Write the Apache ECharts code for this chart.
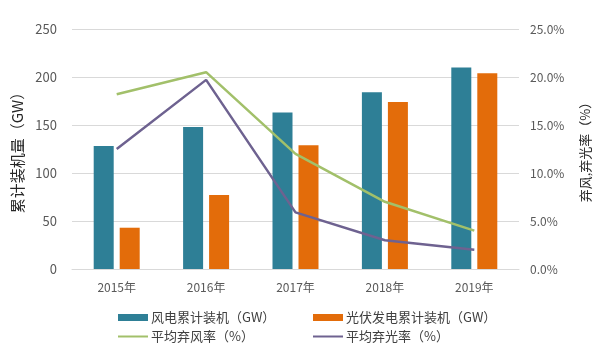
<!DOCTYPE html>
<html><head><meta charset="utf-8">
<script src="https://cdn.jsdelivr.net/npm/echarts@6/dist/echarts.min.js"></script>
<style>html,body{margin:0;padding:0;background:#fff}#c{width:600px;height:354px}</style>
</head><body><div id="c"></div>
<script>
const categories = ['2015年','2016年','2017年','2018年','2019年'];
const windCapacity = [128, 148, 163, 184, 210];
const solarCapacity = [43, 77, 129, 174, 204];
const windCurtail = [18.2, 20.5, 12.0, 7.0, 4.0];
const solarCurtail = [12.5, 19.7, 5.9, 3.0, 2.0];
const leftTicks = [0, 50, 100, 150, 200, 250];
const rightTicks = [0, 5, 10, 15, 20, 25];

const names = ['风电累计装机（GW）','光伏发电累计装机（GW）','平均弃风率（%）','平均弃光率（%）'];
const colors = ['#2e7f96','#e36c0a','#a2c06a','#6e6290'];
const font = '"Noto Sans CJK SC", "Open Sans", sans-serif';
const chart = echarts.init(document.getElementById('c'));
function lg(i, left, top, icon, h){
  return {data:[{name:names[i], icon:icon}], left:left, top:top, itemWidth:30, itemHeight:h,
    itemGap:4, textStyle:{fontSize:13, color:'#404040', fontFamily:font, padding:[0,0,0,-2]}, selectedMode:false};
}
chart.setOption({
  animation:false,
  textStyle:{fontFamily:font},
  grid:{left:72, right:75, top:29, bottom:85},
  legend:[lg(0,113,306,'rect',7), lg(1,308,306,'rect',7), lg(2,113,325,'rect',2), lg(3,308,325,'rect',2)],
  xAxis:{type:'category', data:categories, axisTick:{show:false},
    axisLine:{show:true, lineStyle:{color:'#d9d9d9'}},
    axisLabel:{color:'#595959', fontSize:12, margin:12}},
  yAxis:[
    {type:'value', min:0, max:250, interval:50, name:'累计装机量（GW）', nameLocation:'middle', nameGap:44, nameRotate:90,
     nameTextStyle:{fontSize:15, color:'#262626'},
     axisLabel:{color:'#595959', fontSize:13, margin:15, formatter:v=>leftTicks.includes(v)?String(v):''},
     splitLine:{lineStyle:{color:'#d9d9d9'}}, axisLine:{show:false}, axisTick:{show:false}},
    {type:'value', min:0, max:25, interval:5, name:'弃风,弃光率（%）', nameLocation:'middle', nameGap:60, nameRotate:90,
     nameTextStyle:{fontSize:13, color:'#262626'},
     axisLabel:{color:'#595959', fontSize:12, margin:11, formatter:v=>rightTicks.includes(v)?v.toFixed(1)+'%':''},
     splitLine:{show:false}, axisLine:{show:false}, axisTick:{show:false}}
  ],
  series:[
    {name:names[0], type:'bar', data:windCapacity, barWidth:20, barGap:'30%', itemStyle:{color:colors[0]}},
    {name:names[1], type:'bar', data:solarCapacity, barWidth:20, barGap:'30%', itemStyle:{color:colors[1]}},
    {name:names[2], type:'line', yAxisIndex:1, data:windCurtail, symbol:'none', lineStyle:{width:2.5, color:colors[2]}, itemStyle:{color:colors[2]}},
    {name:names[3], type:'line', yAxisIndex:1, data:solarCurtail, symbol:'none', lineStyle:{width:2.5, color:colors[3]}, itemStyle:{color:colors[3]}}
  ]
});
</script></body></html>
